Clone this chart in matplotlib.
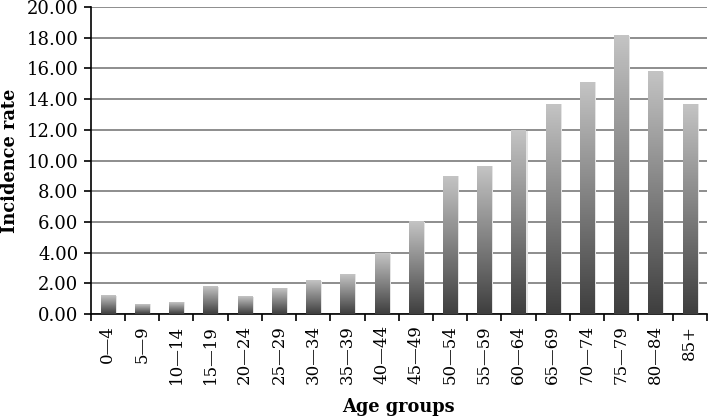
import numpy as np
import matplotlib
matplotlib.use("Agg")
import matplotlib.pyplot as plt
from matplotlib.colors import LinearSegmentedColormap

age_groups = ["0\u20144", "5\u20149", "10\u201414", "15\u201419", "20\u201424", "25\u201429",
              "30\u201434", "35\u201439", "40\u201444", "45\u201449", "50\u201454", "55\u201459",
              "60\u201464", "65\u201469", "70\u201474", "75\u201479", "80\u201484", "85+"]
incidence = [1.19, 0.65, 0.78, 1.78, 1.11, 1.69, 2.15, 2.60, 3.96, 6.00,
             8.99, 9.64, 11.94, 13.68, 15.09, 18.13, 15.79, 13.68]
y_ticks = [0, 2, 4, 6, 8, 10, 12, 14, 16, 18, 20]

plt.rcParams['font.family'] = ['DejaVu Serif']

fig = plt.figure(figsize=(7.09, 4.20), dpi=100)
ax = fig.add_axes([0.128, 0.2524, 0.869, 0.7309])

grad_cmap = LinearSegmentedColormap.from_list("grad", ["#3e3e3e", "#c4c4c4"])
grad = np.linspace(0, 1, 256).reshape(-1, 1)

width = 0.42
x = np.arange(len(age_groups))
# soft shadow behind each bar
ax.bar(x + 0.05, incidence, width=width, color="#e4e4e4", zorder=2, linewidth=0)
bars = ax.bar(x, incidence, width=width, color="none", zorder=3, linewidth=0)
for b in bars:
    x0 = b.get_x()
    h = b.get_height()
    ax.imshow(grad, cmap=grad_cmap, origin="lower", aspect="auto",
              extent=[x0, x0 + b.get_width(), 0, h], zorder=3)

ax.set_xlim(-0.5, len(age_groups) - 0.5)
ax.set_ylim(0, 20)

ax.set_yticks(y_ticks)
ax.set_yticklabels([f"{v:.2f}" for v in y_ticks])
ax.yaxis.grid(True, color="#7a7a7a", linewidth=1.2, zorder=0)
ax.set_axisbelow(True)

ax.set_xticks(np.arange(len(age_groups) + 1) - 0.5)
ax.set_xticklabels([])
ax.set_xticks(x, minor=True)
ax.set_xticklabels(age_groups, minor=True, rotation=90, fontsize=12)
ax.tick_params(axis="x", which="major", direction="out", length=5, width=1.2)
ax.tick_params(axis="x", which="minor", length=0, pad=8)
ax.tick_params(axis="y", direction="out", length=5, width=1.2, labelsize=13, pad=4)

for side in ["top", "right"]:
    ax.spines[side].set_visible(False)
for side in ["left", "bottom"]:
    ax.spines[side].set_linewidth(1.2)
    ax.spines[side].set_color("black")

ax.set_xlabel("Age groups", fontsize=12.8, fontweight="bold", va="center")
ax.xaxis.set_label_coords(0.5, -0.303)
ax.set_ylabel("Incidence rate", fontsize=12.8, fontweight="bold", labelpad=5)

fig.savefig("out.png", dpi=100)
